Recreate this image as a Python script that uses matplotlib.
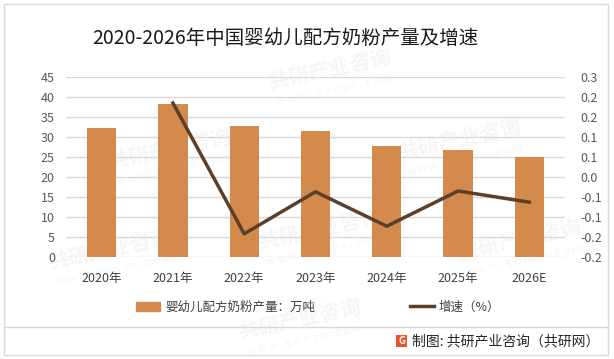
import numpy as np
import matplotlib
matplotlib.use("Agg")
import matplotlib.pyplot as plt
from matplotlib.patches import Rectangle, Patch
from matplotlib.lines import Line2D

plt.rcParams['font.family'] = ['Noto Sans CJK SC', 'DejaVu Sans']

# 数据
years = ['2020年', '2021年', '2022年', '2023年', '2024年', '2025年', '2026E']
production = [32.3, 38.2, 32.8, 31.6, 27.7, 26.7, 25.0]   # 万吨
growth = [0.185, -0.142, -0.037, -0.123, -0.035, -0.063]   # 2021-2026E
left_ticks = [0, 5, 10, 15, 20, 25, 30, 35, 40, 45]
right_ticks = [-0.2, -0.15, -0.1, -0.05, 0.0, 0.05, 0.1, 0.15, 0.2, 0.25]
right_labels = ['-0.2', '-0.2', '-0.1', '-0.1', '0.0', '0.1', '0.1', '0.2', '0.2', '0.3']

bar_color = '#D38A4C'
line_color = '#5C3F29'
tick_color = '#595959'

W, H = 614, 359
fig = plt.figure(figsize=(W / 100, H / 100), dpi=100)

# 外框和分隔线
fig.patches.append(Rectangle((4 / W, 4 / H), 604 / W, 351 / H, transform=fig.transFigure,
                             fill=False, edgecolor='#D9D9D9', lw=1))
fig.add_artist(Line2D([4 / W, 608 / W], [1 - 327 / H, 1 - 327 / H], transform=fig.transFigure,
                      color='#D9D9D9', lw=1))

# 水印
for (wx, wy) in [(330, 70), (170, 150), (460, 140), (320, 230), (520, 240), (110, 250), (300, 320)]:
    fig.text(wx / W, 1 - wy / H, '共研产业咨询', fontsize=15, fontweight='bold', color='#F6F6F6',
             rotation=12, ha='center', va='center', zorder=-5)
    fig.text((wx + 5) / W, 1 - (wy + 20) / H, 'w w w . g o n y n . c o m', fontsize=8, color='#F6F6F6',
             rotation=12, ha='center', va='center', zorder=-5)

ax = fig.add_axes([66 / W, 1 - 257 / H, (565 - 66) / W, (257 - 77) / H])
ax.set_facecolor('none')
x = np.arange(len(years))
ax.bar(x, production, width=0.41, color=bar_color, zorder=2)
ax.set_xlim(-0.5, len(years) - 0.5)
ax.set_ylim(0, 45)
ax.set_yticks(left_ticks)
ax.set_xticks(x)
ax.set_xticklabels(years)
ax.yaxis.grid(True, color='#D9D9D9', lw=1)
ax.set_axisbelow(True)
for s in ax.spines.values():
    s.set_visible(False)
ax.tick_params(axis='y', length=0, pad=8, labelsize=9, labelcolor=tick_color)
ax.tick_params(axis='x', length=0, pad=11, labelsize=9, labelcolor='#404040')

ax2 = ax.twinx()
ax2.plot(x[1:], growth, color=line_color, lw=2.5, zorder=3)
ax2.set_ylim(-0.2, 0.25)
ax2.set_yticks(right_ticks)
ax2.set_yticklabels(right_labels)
for s in ax2.spines.values():
    s.set_visible(False)
ax2.tick_params(axis='y', length=0, pad=11, labelsize=9, labelcolor=tick_color)

# 图例
h1 = Patch(color=bar_color)
h2 = Line2D([], [], color=line_color, lw=2.5)
fig.legend([h1, h2], ['婴幼儿配方奶粉产量：万吨', '增速（%）'], ncol=2, frameon=False,
           loc='center left', bbox_to_anchor=(130 / W, 1 - 307 / H), fontsize=9,
           handlelength=1.9, handletextpad=0.4, columnspacing=7.6, borderpad=0,
           labelcolor='#404040')

# 标题
fig.text(285 / W, 1 - 38 / H, '2020-2026年中国婴幼儿配方奶粉产量及增速', fontsize=14,
         ha='center', va='center', color='#1A1A1A')

# 来源
fig.patches.append(Rectangle((396 / W, 1 - 347 / H), 11 / W, 12 / H, transform=fig.transFigure,
                             color='#E8552A', lw=0))
fig.text(401.5 / W, 1 - 341 / H, 'G', fontsize=7, fontweight='bold', color='white',
         ha='center', va='center')
fig.text(412 / W, 1 - 341 / H, '制图: 共研产业咨询（共研网）', fontsize=10,
         ha='left', va='center', color='#262626')

fig.savefig('out.png', dpi=100)
